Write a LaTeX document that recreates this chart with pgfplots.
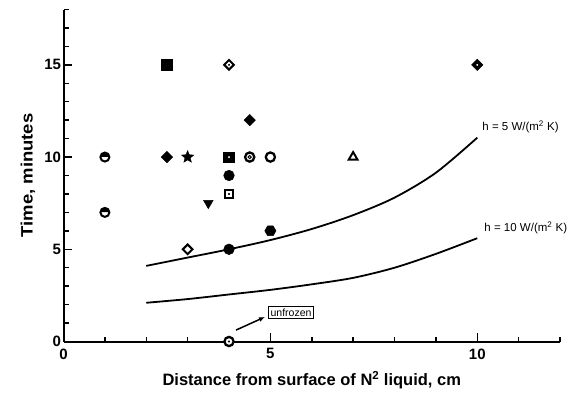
\documentclass[border=0pt]{standalone}
\usepackage{fontspec}
\setmainfont{Liberation Sans}
\usepackage{pgfplots}
\pgfplotsset{compat=1.18}
\usetikzlibrary{arrows.meta}

\pgfdeclareplotmark{hex*}{%
 \pgfpathmoveto{\pgfpointpolar{0}{\pgfplotmarksize}}%
 \pgfpathlineto{\pgfpointpolar{60}{\pgfplotmarksize}}%
 \pgfpathlineto{\pgfpointpolar{120}{\pgfplotmarksize}}%
 \pgfpathlineto{\pgfpointpolar{180}{\pgfplotmarksize}}%
 \pgfpathlineto{\pgfpointpolar{240}{\pgfplotmarksize}}%
 \pgfpathlineto{\pgfpointpolar{300}{\pgfplotmarksize}}%
 \pgfpathclose\pgfusepathqfillstroke}

\pgfdeclareplotmark{fstar}{%
 \pgfpathmoveto{\pgfpointpolar{90}{\pgfplotmarksize}}%
 \pgfpathlineto{\pgfpointpolar{126}{0.45\pgfplotmarksize}}%
 \pgfpathlineto{\pgfpointpolar{162}{\pgfplotmarksize}}%
 \pgfpathlineto{\pgfpointpolar{198}{0.45\pgfplotmarksize}}%
 \pgfpathlineto{\pgfpointpolar{234}{\pgfplotmarksize}}%
 \pgfpathlineto{\pgfpointpolar{270}{0.45\pgfplotmarksize}}%
 \pgfpathlineto{\pgfpointpolar{306}{\pgfplotmarksize}}%
 \pgfpathlineto{\pgfpointpolar{342}{0.45\pgfplotmarksize}}%
 \pgfpathlineto{\pgfpointpolar{18}{\pgfplotmarksize}}%
 \pgfpathlineto{\pgfpointpolar{54}{0.45\pgfplotmarksize}}%
 \pgfpathclose\pgfusepathqfillstroke}

\begin{document}
\begin{tikzpicture}
\useasboundingbox (0,0) rectangle (577pt,397pt);
\begin{axis}[
 at={(63.5pt,55.5pt)}, anchor=south west,
 scale only axis, width=496.5pt, height=332pt,
 xmin=0, xmax=12, ymin=0, ymax=18,
 axis x line*=bottom, axis y line*=left,
 axis line style={line width=2pt, black},
 xtick={0,5,10}, ytick={0,5,10,15},
 minor xtick={1,2,3,4,6,7,8,9,11,12},
 minor ytick={1,2,3,4,6,7,8,9,11,12,13,14,16,17,18},
 tick align=inside,
 major tick length=9pt, minor tick length=5pt,
 every tick/.style={line width=1.5pt, black},
 every minor tick/.style={line width=1.5pt, black},
 ticklabel style={font=\fontsize{15}{17}\selectfont\bfseries},
 xticklabel style={yshift=-3.5pt},
 yticklabel style={xshift=1pt},
 /pgf/number format/assume math mode=true,
 xlabel={Distance from surface of N\textsuperscript{2} liquid, cm},
 ylabel={Time, minutes},
 label style={font=\fontsize{16.5}{18}\selectfont\bfseries},
 xlabel style={at={(axis description cs:0.5,0)}, anchor=center, yshift=-39pt},
 ylabel style={at={(axis description cs:0,0.5)}, anchor=center, yshift=35.5pt, xscale=1.12},
 clip=false,
]
% curves
\addplot[line width=1.8pt, smooth] coordinates {(2,4.1) (3,4.55) (4,5.0) (5,5.5) (6,6.1) (7,6.85) (8,7.8) (9,9.15) (10,11.05)};
\addplot[line width=1.8pt, smooth] coordinates {(2,2.1) (3,2.3) (4,2.55) (5,2.8) (6,3.1) (7,3.45) (8,4.0) (9,4.75) (10,5.6)};

% half-filled circles
\addplot[only marks, mark=halfcircle*, mark size=4.5pt, mark options={line width=2pt, draw=black, fill=black}] coordinates {(1,10) (1,7)};
% filled squares
\addplot[only marks, mark=square*, mark size=5.3pt, mark options={line width=0.5pt, draw=black, fill=black}] coordinates {(2.5,15) (4,10)};
% filled diamonds
\addplot[only marks, mark=square*, mark size=4pt, mark options={rotate=45, line width=0.5pt, draw=black, fill=black}] coordinates {(2.5,10) (4.5,12) (10,15)};
% star
\addplot[only marks, mark=fstar, mark size=6.5pt, mark options={line width=0.3pt, draw=black, fill=black}] coordinates {(3,10)};
% open diamonds
\addplot[only marks, mark=square*, mark size=3.4pt, mark options={rotate=45, line width=2pt, draw=black, fill=white}] coordinates {(4,15) (3,5)};
% open circles
\addplot[only marks, mark=*, mark size=4.6pt, mark options={line width=2.3pt, draw=black, fill=white}] coordinates {(5,10) (4.5,10) (4,0)};
% inner ring
\addplot[only marks, mark=*, mark size=1.6pt, mark options={line width=1pt, draw=black, fill=white}] coordinates {(4.5,10)};
% filled circles
\addplot[only marks, mark=*, mark size=5.3pt, mark options={line width=0.5pt, draw=black, fill=black}] coordinates {(4,9) (4,5)};
% open square
\addplot[only marks, mark=square*, mark size=4.3pt, mark options={line width=2pt, draw=black, fill=white}] coordinates {(4,8)};
% down triangle
\addplot[only marks, mark=triangle*, mark size=5.5pt, mark options={rotate=180, line width=0.5pt, draw=black, fill=black}] coordinates {(3.5,7.5)};
% hexagon
\addplot[only marks, mark=hex*, mark size=5.6pt, mark options={line width=0.5pt, draw=black, fill=black}] coordinates {(5,6)};
% open triangle
\addplot[only marks, mark=triangle*, mark size=5pt, mark options={line width=2pt, draw=black, fill=white}] coordinates {(7,10)};
% centre dots
\addplot[only marks, mark=*, mark size=0.8pt, mark options={draw=black, fill=black}] coordinates {(4,15) (4,8) (4,0)};
\addplot[only marks, mark=*, mark size=0.7pt, mark options={draw=white, fill=white}] coordinates {(10,15) (4,10)};

% annotations
\node[anchor=west, font=\fontsize{11.5}{13}\selectfont, inner sep=0pt] at (axis cs:10.12,11.64) {h = 5 W/(m\textsuperscript{2} K)};
\node[anchor=west, font=\fontsize{11.5}{13}\selectfont, inner sep=0pt] at (axis cs:10.17,6.17) {h = 10 W/(m\textsuperscript{2} K)};
\node[draw, line width=1pt, inner sep=2.5pt, font=\fontsize{10.5}{12}\selectfont] at (axis cs:5.5,1.57) {unfrozen};
\draw[-{Latex[length=6pt,width=5pt]}, line width=1.5pt] (axis cs:4.17,0.62) -- (axis cs:4.87,1.33);
\end{axis}
\end{tikzpicture}
\end{document}
